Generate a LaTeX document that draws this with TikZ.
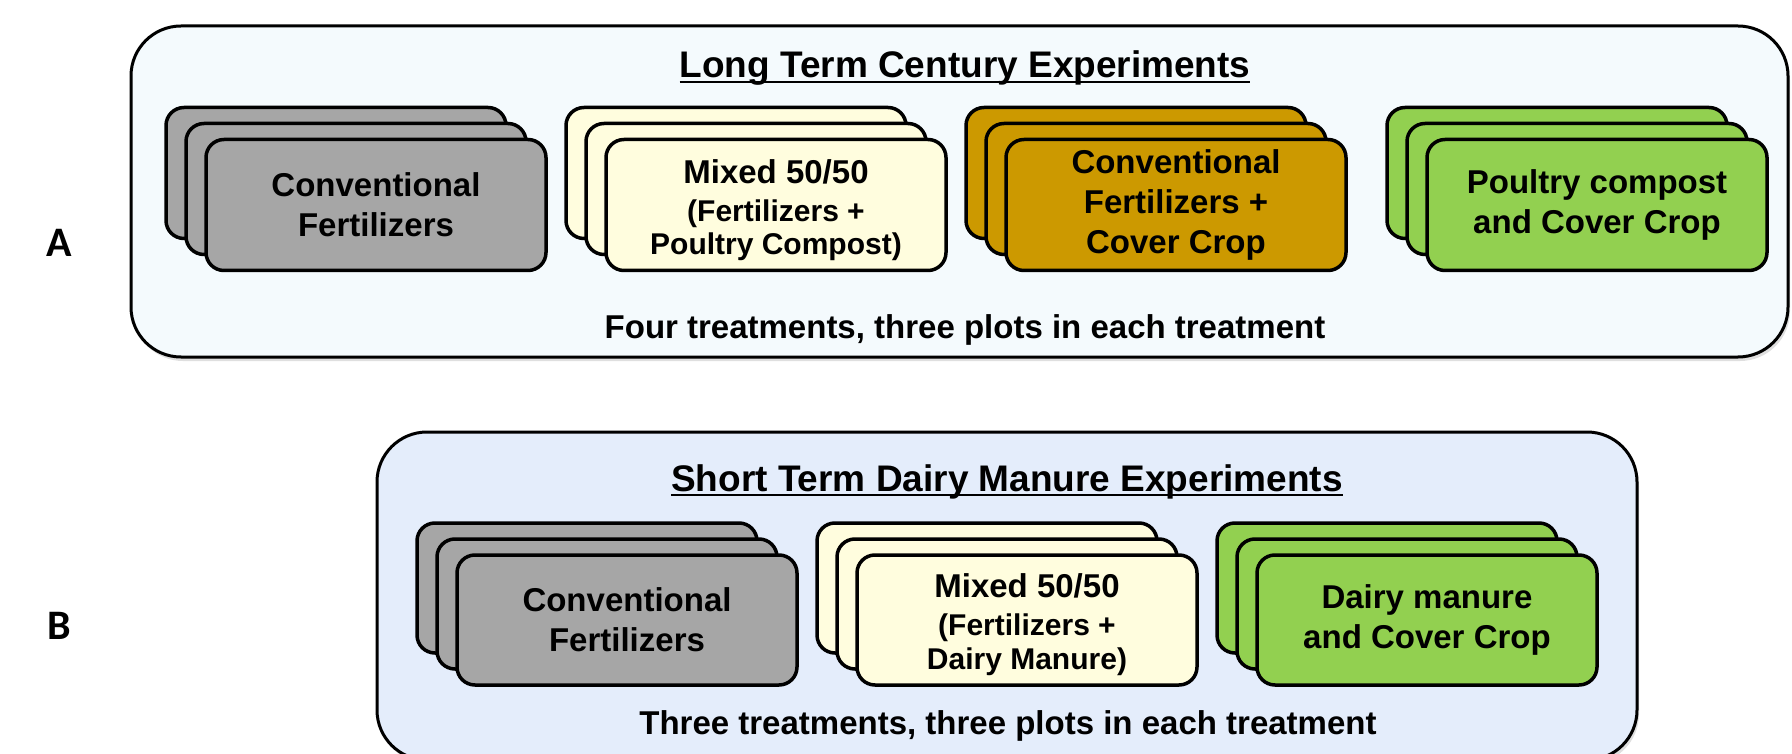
\documentclass[tikz,border=0pt]{standalone}
\usepackage{fontspec}
\setmainfont{Liberation Sans}
\newfontfamily\letterfont{Carlito}
\usepackage{tikz}
\usetikzlibrary{positioning}
\usetikzlibrary{shadows}
\definecolor{fertgray}{RGB}{166,166,166}
\definecolor{mixcream}{RGB}{255,253,222}
\definecolor{covergold}{RGB}{204,153,0}
\definecolor{compgreen}{RGB}{146,208,80}
\definecolor{longbg}{RGB}{244,250,253}
\definecolor{shortbg}{RGB}{228,237,251}
\newcommand{\boxfont}{\fontsize{33}{40}\selectfont\bfseries}
\newcommand{\smallbox}{\fontsize{30}{33}\selectfont}
\newcommand{\titlefont}{\fontsize{37}{44}\selectfont\bfseries}

\begin{document}
\begin{tikzpicture}[x=1pt,y=-1pt,node distance=60pt,
	every node/.style={inner sep=0,outer sep=0,font=\boxfont},
	expbox/.style={draw,line width=3pt,rounded corners=50pt,
		drop shadow={shadow xshift=2pt,shadow yshift=-4pt,opacity=0.25}},
	plotbox/.style={draw,line width=3.5pt,rounded corners=18pt,fill=#1,
		minimum width=340pt,minimum height=131pt,align=center,
		double copy shadow={shadow xshift=-20pt,shadow yshift=16pt,
			fill=#1,draw=black,line width=3.5pt}}]
	\useasboundingbox (0,0) rectangle (1792,754);

	% long term experiments
	\node[expbox,fill=longbg,minimum width=1657pt,minimum height=331pt] (LT) at (959.5,191.5) {};
	\node[anchor=base,font=\titlefont] (LTtitle) at (965,78) {Long Term Century Experiments};
	\draw[line width=2.5pt] ([yshift=-4pt]LTtitle.base west) -- ([yshift=-4pt]LTtitle.base east);
	\node[plotbox=fertgray] (LT1) at (376,205) {Conventional\\Fertilizers};
	\node[plotbox=mixcream] (LT2) [right=of LT1] {\rule{0pt}{34pt}Mixed 50/50\\[-2pt]\smallbox (Fertilizers +\\[-7pt]\smallbox Poultry Compost)};
	\node[plotbox=covergold] (LT3) [right=of LT2] {Conventional\\Fertilizers +\\Cover Crop};
	\node[plotbox=compgreen] (LT4) [right=81pt of LT3] {Poultry compost\\and Cover Crop};
	\node[anchor=base] (LTnote) at (965,338) {Four treatments, three plots in each treatment};
	\node[font=\letterfont\fontsize{42}{42}\selectfont\bfseries] (A) at (59,243) {A};

	% short term experiments
	\node[expbox,fill=shortbg,minimum width=1260pt,minimum height=328pt] (ST) at (1007,596) {};
	\node[anchor=base,font=\titlefont] (STtitle) at (1007,491) {Short Term Dairy Manure Experiments};
	\draw[line width=2.5pt] ([yshift=-4pt]STtitle.base west) -- ([yshift=-4pt]STtitle.base east);
	\node[plotbox=fertgray,minimum height=130pt] (ST1) at (627,620) {Conventional\\Fertilizers};
	\node[plotbox=mixcream,minimum height=130pt] (ST2) [right=of ST1] {\rule{0pt}{34pt}Mixed 50/50\\[-2pt]\smallbox (Fertilizers +\\[-6pt]\smallbox Dairy Manure)};
	\node[plotbox=compgreen,minimum height=130pt] (ST3) [right=of ST2] {Dairy manure\\and Cover Crop};
	\node[anchor=base] (STnote) at (1008,734) {Three treatments, three plots in each treatment};
	\node[font=\letterfont\fontsize{42}{42}\selectfont\bfseries] (B) at (59,626) {B};
\end{tikzpicture}
\end{document}
